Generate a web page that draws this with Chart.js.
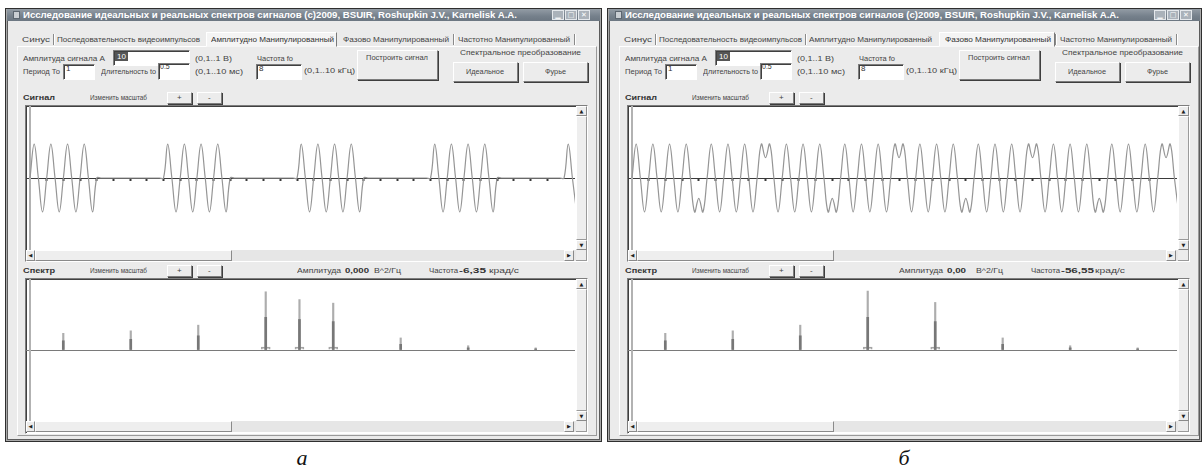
<!DOCTYPE html>
<html><head><meta charset="utf-8">
<script src="https://cdn.jsdelivr.net/npm/chart.js@4.4.1/dist/chart.umd.min.js"></script>
<style>
html,body{margin:0;padding:0;background:#fff;width:1203px;height:470px;overflow:hidden;}
#root{position:relative;width:1203px;height:470px;overflow:hidden;}
.a{position:absolute;box-sizing:border-box;}
.t{position:absolute;white-space:nowrap;font-family:"Liberation Sans",Arial,sans-serif;font-size:8px;line-height:10px;color:#444;transform-origin:0 50%;}
canvas{position:absolute;}
</style></head><body><div id="root"></div>
<script>
// ---------------- DATA ----------------
const windowTitle = "Исследование идеальных и реальных спектров сигналов (c)2009, BSUIR, Roshupkin J.V., Karnelisk A.A.";
const tabLabels = ["Синус", "Последовательность видеоимпульсов", "Амплитудно Манипулированный", "Фазово Манипулированный", "Частотно Манипулированный"];
const captions = ["а", "б"];
const activeTab = [2, 3];
const inputValues = ["10", "1", "0.5", "8"];
const readoutAmp = ["0,000", "0,00"];
const readoutFreq = ["-6,35", "-56,55"];

// signal samples every 1/32 ms (quarter of a carrier cycle), values in V
const signalStepMs = 1 / 32;
const signalAM = [
  0,1,0,-1, 0,1,0,-1, 0,1,0,-1, 0,1,0,-1,
  0,0,0,0, 0,0,0,0, 0,0,0,0, 0,0,0,0,
  0,1,0,-1, 0,1,0,-1, 0,1,0,-1, 0,1,0,-1,
  0,0,0,0, 0,0,0,0, 0,0,0,0, 0,0,0,0,
  0,1,0,-1, 0,1,0,-1, 0,1,0,-1, 0,1,0,-1,
  0,0,0,0, 0,0,0,0, 0,0,0,0, 0,0,0,0,
  0,1,0,-1, 0,1,0,-1, 0,1,0,-1, 0,1,0,-1,
  0,0,0,0, 0,0,0,0, 0,0,0,0, 0,0,0,0,
  0,1,0,-1
];
const signalPM = [
  0,1,0,-1, 0,1,0,-1, 0,1,0,-1, 0,1,0,-1,
  -0.6,-1,0,1, 0,-1,0,1, 0,-1,0,1, 0,-1,0,1,
  0.6,1,0,-1, 0,1,0,-1, 0,1,0,-1, 0,1,0,-1,
  -0.6,-1,0,1, 0,-1,0,1, 0,-1,0,1, 0,-1,0,1,
  0.6,1,0,-1, 0,1,0,-1, 0,1,0,-1, 0,1,0,-1,
  -0.6,-1,0,1, 0,-1,0,1, 0,-1,0,1, 0,-1,0,1,
  0.6,1,0,-1, 0,1,0,-1, 0,1,0,-1, 0,1,0,-1,
  -0.6,-1,0,1, 0,-1,0,1, 0,-1,0,1, 0,-1,0,1,
  0.6,1,0,-1
];
const signalRangeMs = [-0.03, 4.082];
const signalAmpRange = 2.12;
const signalTickStepMs = 0.125;

// spectrum lines (kHz) and relative heights
const spectrumFreqAM = [1, 3, 5, 7, 8, 9, 11, 13, 15];
const spectrumPeakAM = [0.235, 0.27, 0.35, 0.82, 0.71, 0.66, 0.17, 0.06, 0.03];
const spectrumBodyAM = [0.13, 0.15, 0.20, 0.46, 0.43, 0.40, 0.08, 0.03, 0.015];
const spectrumLobeAM = [0, 0, 0, 0.04, 0.04, 0.04, 0, 0, 0];
const spectrumFreqPM = [1, 3, 5, 7, 9, 11, 13, 15];
const spectrumPeakPM = [0.235, 0.27, 0.35, 0.83, 0.67, 0.17, 0.06, 0.03];
const spectrumBodyPM = [0.13, 0.15, 0.20, 0.46, 0.40, 0.08, 0.03, 0.015];
const spectrumLobePM = [0, 0, 0, 0.04, 0.04, 0, 0, 0];
const spectrumRangeKHz = [-0.105, 16.166];
const spectrumAmpRange = 1;

// ---------------- BUILD ----------------
const root = document.getElementById('root');
const RAISED = 'background:#ececec;border:1px solid;border-color:#fff #7d7d7d #7d7d7d #fff;box-shadow:1px 1px 0 #3e3e3e;';
const SUNKEN = 'background:#fff;border:1px solid;border-color:#7d7d7d #fff #fff #7d7d7d;box-shadow:inset 1px 1px 0 #404040;';
const pending = [];
function box(x, y, w, h, style) {
  const d = document.createElement('div'); d.className = 'a';
  d.style.cssText = 'left:' + x + 'px;top:' + y + 'px;width:' + w + 'px;height:' + h + 'px;' + (style || '');
  root.appendChild(d); return d;
}
function txt(s, x, y, w, extra) {
  const d = document.createElement('span'); d.className = 't'; d.textContent = s;
  d.style.left = x + 'px'; d.style.top = (y - 5) + 'px';
  if (extra) d.style.cssText += extra;
  root.appendChild(d); if (w) pending.push([d, w]); return d;
}
function arrowBtn(x, y, w, h, ch) {
  const b = box(x, y, w, h, 'background:#ececec;border:1px solid;border-color:#fff #8a8a8a #8a8a8a #fff;');
  const s = document.createElement('div');
  s.style.cssText = 'position:absolute;left:0;top:0;width:100%;height:100%;font:5px "DejaVu Sans";line-height:' + (h - 2) + 'px;text-align:center;color:#222;';
  s.textContent = ch; b.appendChild(s);
}
function chartBox(ox, x, y, w, h, plotH) {
  box(ox + x, y, w, h, SUNKEN);
  const cv = document.createElement('canvas');
  cv.width = w - 14; cv.height = plotH;
  cv.style.left = (ox + x + 1) + 'px'; cv.style.top = (y + 1) + 'px';
  cv.style.width = (w - 14) + 'px'; cv.style.height = plotH + 'px';
  root.appendChild(cv);
  const vx = ox + x + w - 12, vy = y + 1;
  box(vx, vy, 11, plotH, 'background:#e6e6e6;');
  arrowBtn(vx, vy, 11, 10, '▲');
  box(vx, vy + 10, 11, plotH - 20, 'background:#eeeeee;border:1px solid;border-color:#fff #9a9a9a #9a9a9a #fff;');
  arrowBtn(vx, vy + plotH - 10, 11, 10, '▼');
  const hy = y + 1 + plotH;
  box(ox + x + 1, hy, w - 13, 11, 'background:#e6e6e6;');
  arrowBtn(ox + x + 1, hy, 9, 11, '◀');
  box(ox + x + 10, hy, 197, 11, 'background:#eeeeee;border:1px solid;border-color:#fff #8a8a8a #8a8a8a #fff;');
  arrowBtn(ox + x + w - 24, hy, 10, 11, '▶');
  box(vx, hy, 11, 11, 'background:#ececec;border-right:1px solid #9a9a9a;border-bottom:1px solid #9a9a9a;');
  return cv;
}

function baseOptions() {
  return {
    responsive: false, animation: false, events: [],
    layout: {padding: 0, autoPadding: false},
    plugins: {legend: {display: false}, tooltip: {enabled: false}, title: {display: false}}
  };
}
function signalChart(cv, values) {
  const pts = values.map((v, i) => ({x: i * signalStepMs, y: v}));
  const o = baseOptions();
  o.scales = {
    x: {type: 'linear', min: signalRangeMs[0], max: signalRangeMs[1], position: {y: 0}, offset: false,
        border: {display: true, color: '#3a3a3a', width: 1},
        grid: {display: true, drawOnChartArea: false, drawTicks: true, tickLength: 2, tickWidth: 2, color: '#3a3a3a'},
        ticks: {display: false, stepSize: signalTickStepMs},
        afterBuildTicks: s => { s.ticks = s.ticks.filter(t => t.value >= -1e-9 && Math.abs(t.value / signalTickStepMs - Math.round(t.value / signalTickStepMs)) < 1e-6); }},
    y: {type: 'linear', min: -signalAmpRange, max: signalAmpRange, position: {x: 0},
        border: {display: true, color: '#b2b2b2', width: 2},
        grid: {display: true, drawOnChartArea: false, drawTicks: false},
        ticks: {display: false}}
  };
  return new Chart(cv, {
    type: 'line',
    data: {datasets: [{data: pts, borderColor: '#959595', borderWidth: 1.2, pointRadius: 0, pointHoverRadius: 0, tension: 0.4, fill: false}]},
    options: o
  });
}
function spectrumChart(cv, freqs, peaks, bodies, lobes) {
  const mk = arr => freqs.map((f, i) => ({x: f, y: arr[i]}));
  const o = baseOptions();
  o.scales = {
    x: {type: 'linear', min: spectrumRangeKHz[0], max: spectrumRangeKHz[1], position: {y: 0}, offset: false,
        border: {display: true, color: '#7a7a7a', width: 1},
        grid: {display: true, drawOnChartArea: false, drawTicks: false, offset: false},
        ticks: {display: false}},
    y: {type: 'linear', min: -spectrumAmpRange, max: spectrumAmpRange, position: {x: 0},
        border: {display: true, color: '#b2b2b2', width: 2},
        grid: {display: true, drawOnChartArea: false, drawTicks: false},
        ticks: {display: false}}
  };
  return new Chart(cv, {
    type: 'bar',
    data: {datasets: [
      {data: mk(bodies), backgroundColor: '#777777', barThickness: 2, grouped: false, order: 0},
      {data: mk(peaks), backgroundColor: '#adadad', barThickness: 1.5, grouped: false, order: 1},
      {data: mk(lobes).filter(p => p.y > 0), backgroundColor: 'rgba(0,0,0,0)', borderColor: '#a5a5a5', borderWidth: 1, borderSkipped: 'bottom', barThickness: 9, grouped: false, order: 2}
    ]},
    options: o
  });
}

function buildWindow(k, ox, winW) {
  box(ox + 5, 8, winW, 434, 'background:#ebebeb;border:1px solid #2f2f2f;box-shadow:inset 0 0 0 1px #a9a9a9, inset 0 0 0 2px #5c5c5c;');
  box(ox + 7, 9, winW - 4, 12, 'background:linear-gradient(#939ca5,#75808b 60%,#6c7782);');
  box(ox + 13, 11, 7, 8, 'background:#c9ced3;border:1px solid #5c6670;');
  txt(windowTitle, ox + 23, 15, 494, 'color:#fff;font-weight:bold;font-size:8.5px;');
  [[552, '▁'], [565, '□'], [578, '✕']].forEach(([bx, ch]) => {
    const b = box(ox + bx, 10, 12, 10, 'background:#aab2ba;border:1px solid #e4e8ec;');
    const s = document.createElement('div');
    s.style.cssText = 'position:absolute;left:0;top:0;width:100%;height:100%;font:bold 7px "DejaVu Sans";line-height:8px;text-align:center;color:#fff;';
    s.textContent = ch; b.appendChild(s);
  });
  box(ox + 17, 46, 580, 390, 'border:1px solid;border-color:#fff #9a9a9a #9a9a9a #fff;');
  const tabX = [22, 57, k === 0 ? 211 : 207, 343, 458];
  const tabW = [28, 143, 123, 106, 112];
  const act = activeTab[k];
  const actBox = k === 0 ? [206, 131] : [337, 116];
  box(ox + actBox[0], 32, actBox[1], 15, 'background:#f4f4f4;border:1px solid;border-color:#fff #7a7a7a transparent #fff;');
  tabLabels.forEach((s, i) => txt(s, ox + tabX[i], 40, tabW[i], i === act ? 'color:#333;' : ''));
  const seps = k === 0 ? [53, 453, 574] : [53, 203, 453, 574];
  seps.forEach(sx => box(ox + sx, 34, 1, 11, 'background:#8a8a8a;box-shadow:1px 0 0 #fff;'));
  txt("Амплитуда сигнала А", ox + 23, 59, 82);
  const inA = box(ox + 113, 50, 77, 16, SUNKEN);
  const sel = document.createElement('span');
  sel.style.cssText = 'position:absolute;left:1px;top:1px;background:#555;color:#fff;font:8px "Liberation Sans";line-height:9px;padding:0 2px;';
  sel.textContent = inputValues[0]; inA.appendChild(sel);
  txt("(0,1..1 В)", ox + 195, 59, 37);
  txt("Частота fo", ox + 257, 59, 36);
  txt("Период То", ox + 23, 72, 37);
  box(ox + 63, 64, 32, 16, SUNKEN); txt(inputValues[1], ox + 66, 69, 0, 'color:#333;');
  txt("Длительность to", ox + 101, 72, 55);
  box(ox + 158, 63, 32, 17, SUNKEN); txt(inputValues[2], ox + 160, 67, 0, 'color:#333;font-size:7px;');
  txt("(0,1..10 мс)", ox + 195, 72, 48);
  box(ox + 256, 64, 46, 16, SUNKEN); txt(inputValues[3], ox + 259, 69, 0, 'color:#333;');
  txt("(0,1..10 кГц)", ox + 304, 71, 51);
  box(ox + 357, 50, 81, 30, RAISED); txt("Построить сигнал", ox + 366, 58, 62);
  txt("Спектральное преобразование", ox + 460, 53, 121);
  box(ox + 453, 62, 65, 20, RAISED); txt("Идеальное", ox + 466, 72, 38);
  box(ox + 523, 62, 65, 20, RAISED); txt("Фурье", ox + 545, 72, 21);
  txt("Сигнал", ox + 23, 98, 32, 'font-weight:bold;color:#333;');
  txt("Изменить масштаб", ox + 90, 98, 57);
  box(ox + 167, 92, 25, 12, RAISED); txt("+", ox + 177, 98, 0);
  box(ox + 197, 92, 25, 12, RAISED); txt("-", ox + 208, 98, 0);
  const cvS = chartBox(ox, 25, 105, 563, 157, 144);
  txt("Спектр", ox + 23, 271, 32, 'font-weight:bold;color:#333;');
  txt("Изменить масштаб", ox + 90, 271, 57);
  box(ox + 167, 265, 25, 12, RAISED); txt("+", ox + 177, 271, 0);
  box(ox + 197, 265, 25, 12, RAISED); txt("-", ox + 208, 271, 0);
  txt("Амплитуда", ox + 297, 271, 44);
  txt(readoutAmp[k], ox + 345, 271, k === 0 ? 24 : 19, 'font-weight:bold;color:#333;');
  txt("В^2/Гц", ox + 374, 271, 27);
  txt("Частота", ox + 429, 271, 29);
  txt(readoutFreq[k], ox + 459, 271, k === 0 ? 27 : 33, 'font-weight:bold;color:#333;');
  txt("крад/с", ox + (k === 0 ? 489 : 493), 271, 30);
  const cvF = chartBox(ox, 25, 278, 563, 156, 142);
  const c = document.createElement('div');
  c.style.cssText = 'position:absolute;left:' + (ox + 252) + 'px;top:447px;width:100px;text-align:center;font:italic 22px "Liberation Serif",serif;line-height:22px;color:#111;';
  c.textContent = captions[k]; root.appendChild(c);
  return [cvS, cvF];
}

const [sA, fA] = buildWindow(0, 0, 597);
const [sB, fB] = buildWindow(1, 602, 595);
pending.forEach(([d, w]) => { const cw = d.getBoundingClientRect().width; if (cw > 0) d.style.transform = 'scaleX(' + (w / cw) + ')'; });

signalChart(sA, signalAM);
signalChart(sB, signalPM);
spectrumChart(fA, spectrumFreqAM, spectrumPeakAM, spectrumBodyAM, spectrumLobeAM);
spectrumChart(fB, spectrumFreqPM, spectrumPeakPM, spectrumBodyPM, spectrumLobePM);
</script>
</body></html>
